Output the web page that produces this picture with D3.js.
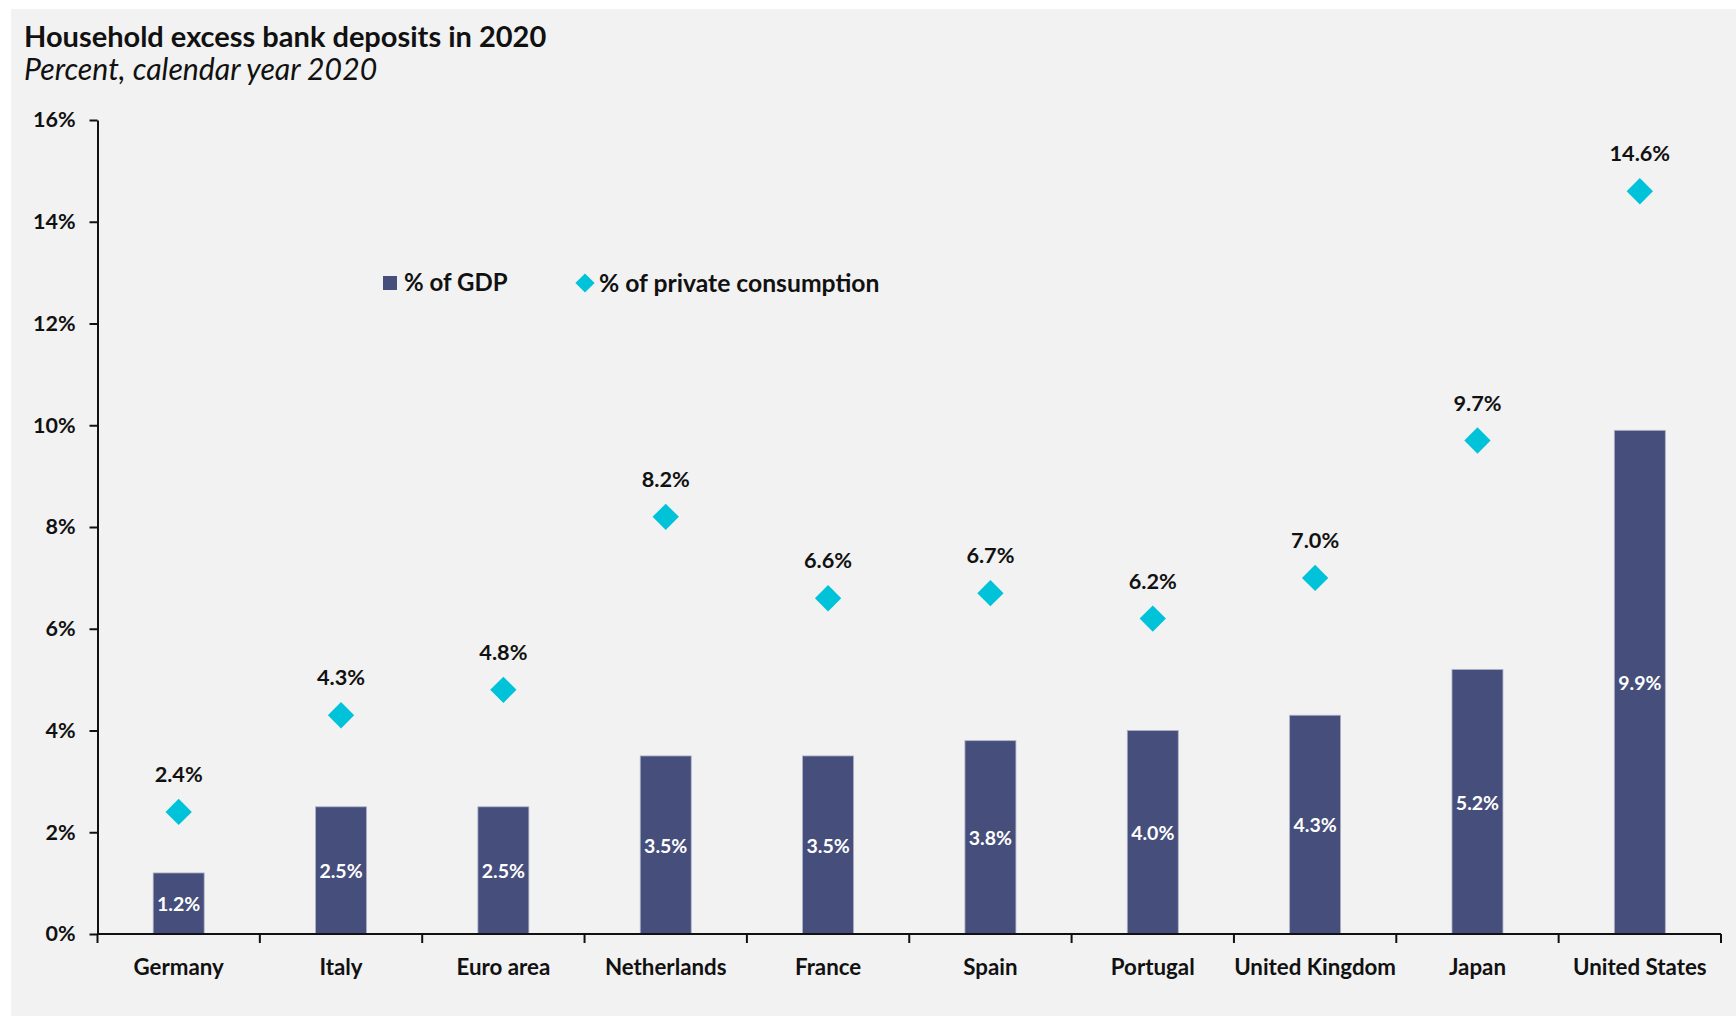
<!DOCTYPE html>
<html>
<head>
<meta charset="utf-8">
<script src="https://cdn.jsdelivr.net/npm/d3@7"></script>
<style>
  html, body { margin: 0; padding: 0; background: #ffffff; }
  svg { display: block; }
  text { font-family: Lato, "Open Sans", sans-serif; }
</style>
</head>
<body>
<svg id="chart" width="1736" height="1017"></svg>
<script>
// Household excess bank deposits, 2020
const categories = ["Germany", "Italy", "Euro area", "Netherlands", "France",
                    "Spain", "Portugal", "United Kingdom", "Japan", "United States"];
const gdpShare = [1.2, 2.5, 2.5, 3.5, 3.5, 3.8, 4.0, 4.3, 5.2, 9.9];          // % of GDP
const consumptionShare = [2.4, 4.3, 4.8, 8.2, 6.6, 6.7, 6.2, 7.0, 9.7, 14.6]; // % of private consumption
const yTicks = [0, 2, 4, 6, 8, 10, 12, 14, 16];
const seriesNames = ["% of GDP", "% of private consumption"];

const W = 1736, H = 1017;
const barColor = "#464e7c";
const diamondColor = "#00c3d9";
const panelColor = "#f2f2f2";

const svg = d3.select("#chart");

// background panel
svg.append("rect").attr("x", 11).attr("y", 9).attr("width", W - 11).attr("height", 1007)
  .attr("fill", panelColor);

// title block
svg.append("text").attr("x", 24).attr("y", 47)
  .attr("font-size", 29).attr("font-weight", 700).attr("fill", "#111")
  .text("Household excess bank deposits in 2020");
svg.append("text").attr("x", 24).attr("y", 80)
  .attr("font-size", 30.2).attr("font-style", "italic").attr("fill", "#111")
  .text("Percent, calendar year 2020");

const plot = { left: 97.5, right: 1721, top: 120, bottom: 934 };

const x = d3.scaleBand().domain(categories).range([plot.left, plot.right])
  .paddingInner(0.686).paddingOuter(0.343);
const xOuter = d3.scaleBand().domain(categories).range([plot.left, plot.right]);
const y = d3.scaleLinear().domain([0, 16]).range([plot.bottom, plot.top]);

// y axis
const yAxis = svg.append("g").attr("transform", `translate(${plot.left},0)`)
  .call(d3.axisLeft(y).tickValues(yTicks).tickFormat(d => d + "%").tickSizeOuter(0).tickSizeInner(8).tickPadding(14));
yAxis.select(".domain").attr("stroke", "#111").attr("stroke-width", 2);
yAxis.selectAll(".tick line").attr("stroke", "#111").attr("stroke-width", 2);
yAxis.selectAll(".tick text").attr("font-family", "Lato, sans-serif")
  .attr("font-size", 21.5).attr("font-weight", 700).attr("fill", "#111");

// bars
svg.append("g").selectAll("rect").data(categories).join("rect")
  .attr("x", d => x(d))
  .attr("width", x.bandwidth())
  .attr("y", (d, i) => y(gdpShare[i]))
  .attr("height", (d, i) => y(0) - y(gdpShare[i]))
  .attr("fill", barColor)
  .attr("stroke", "#aeb2c8").attr("stroke-width", 0.8);

// bar value labels (centred in each bar)
svg.append("g").selectAll("text").data(categories).join("text")
  .attr("x", d => x(d) + x.bandwidth() / 2)
  .attr("y", (d, i) => (y(gdpShare[i]) + y(0)) / 2)
  .attr("dy", "0.4em")
  .attr("text-anchor", "middle")
  .attr("font-size", 19.5).attr("font-weight", 700).attr("fill", "#ffffff")
  .text((d, i) => gdpShare[i].toFixed(1) + "%");

// x axis
const xAxis = svg.append("g").attr("transform", `translate(0,${plot.bottom})`);
xAxis.append("line").attr("x1", plot.left).attr("x2", plot.right)
  .attr("stroke", "#111").attr("stroke-width", 2);
const boundaries = categories.map(c => xOuter(c)).concat([plot.right]);
xAxis.selectAll("line.tk").data(boundaries).join("line").attr("class", "tk")
  .attr("x1", d => d).attr("x2", d => d).attr("y1", 0).attr("y2", 9)
  .attr("stroke", "#111").attr("stroke-width", 2);
xAxis.selectAll("text").data(categories).join("text")
  .attr("x", d => xOuter(d) + xOuter.bandwidth() / 2)
  .attr("y", 41)
  .attr("text-anchor", "middle")
  .attr("font-size", 22.3).attr("font-weight", 700).attr("fill", "#111")
  .text(d => d);

// diamonds
const diamond = d3.symbol().type(d3.symbolSquare).size(13.5 * 13.5 * 1.9);
const markers = svg.append("g");
markers.selectAll("path").data(categories).join("path")
  .attr("d", diamond)
  .attr("transform", (d, i) => `translate(${xOuter(d) + xOuter.bandwidth() / 2},${y(consumptionShare[i])}) rotate(45)`)
  .attr("fill", diamondColor);
markers.selectAll("text").data(categories).join("text")
  .attr("x", d => xOuter(d) + xOuter.bandwidth() / 2)
  .attr("y", (d, i) => y(consumptionShare[i]) - 30)
  .attr("text-anchor", "middle")
  .attr("font-size", 21.7).attr("font-weight", 700).attr("fill", "#111")
  .text((d, i) => consumptionShare[i].toFixed(1) + "%");

// legend
const legend = svg.append("g");
legend.append("rect").attr("x", 383).attr("y", 276).attr("width", 14).attr("height", 14)
  .attr("fill", barColor);
legend.append("text").attr("x", 404).attr("y", 283).attr("dy", "0.35em")
  .attr("font-size", 24).attr("font-weight", 700).attr("fill", "#111")
  .text(seriesNames[0]);
legend.append("path").attr("d", d3.symbol().type(d3.symbolSquare).size(185))
  .attr("transform", "translate(585,283) rotate(45)").attr("fill", diamondColor);
legend.append("text").attr("x", 599).attr("y", 283).attr("dy", "0.35em")
  .attr("font-size", 24.7).attr("font-weight", 700).attr("fill", "#111")
  .text(seriesNames[1]);
</script>
</body>
</html>
